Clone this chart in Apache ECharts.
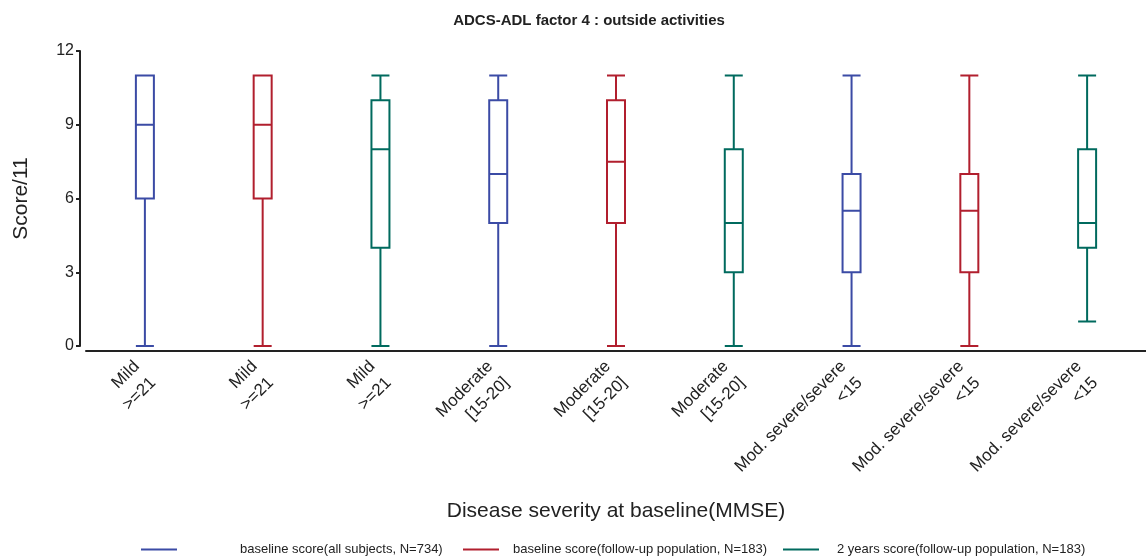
<!DOCTYPE html>
<html>
<head>
<meta charset="utf-8">
<script src="https://cdn.jsdelivr.net/npm/echarts@6/dist/echarts.min.js"></script>
<style>
  html, body { margin: 0; padding: 0; background: #fff; }
  #chart { width: 1146px; height: 559px; }
</style>
</head>
<body>
<div id="chart"></div>
<script>
// categories along the x axis (group label repeated for each population)
const categories = [
  'Mild\n>=21', 'Mild\n>=21', 'Mild\n>=21',
  'Moderate\n[15-20]', 'Moderate\n[15-20]', 'Moderate\n[15-20]',
  'Mod. severe/severe\n<15', 'Mod. severe/severe\n<15', 'Mod. severe/severe\n<15'
]
const seriesNames = [
  'baseline score(all subjects, N=734)',
  'baseline score(follow-up population, N=183)',
  '2 years score(follow-up population, N=183)'
]
const colors = ['#3b4ba5', '#b11f2e', '#006a5e']
// which population each box belongs to
const groupOf = [0, 1, 2, 0, 1, 2, 0, 1, 2]
// [min, Q1, median, Q3, max]
const boxes = [
  [0, 6, 9, 11, 11],
  [0, 6, 9, 11, 11],
  [0, 4, 8, 10, 11],
  [0, 5, 7, 10, 11],
  [0, 5, 7.5, 10, 11],
  [0, 3, 5, 8, 11],
  [0, 3, 5.5, 7, 11],
  [0, 3, 5.5, 7, 11],
  [1, 4, 5, 8, 11]
]
const yTicks = [0, 3, 6, 9, 12]

const chart = echarts.init(document.getElementById('chart'))

const boxData = boxes.map((b, i) => ({
  value: b,
  itemStyle: { borderColor: colors[groupOf[i]], color: 'transparent', borderWidth: 2 }
}))

// legend entries, one legend per entry so they sit like the original
const legendLeft = [136, 458, 778]
const legendPad = [58, 9, 13]
const legends = seriesNames.map((n, i) => ({
  data: [n],
  left: legendLeft[i],
  top: 538,
  icon: 'rect',
  itemWidth: 36,
  itemHeight: 2,
  textStyle: {
    fontSize: 13,
    color: '#222',
    fontFamily: 'Liberation Sans',
    padding: [0, 0, 0, legendPad[i]]
  }
}))

const option = {
  backgroundColor: '#fff',
  animation: false,
  title: {
    text: 'ADCS-ADL factor 4 : outside activities',
    left: 584,
    textAlign: 'center',
    top: 8,
    textStyle: { fontSize: 15, fontWeight: 'bold', color: '#222', fontFamily: 'Liberation Sans' }
  },
  legend: legends,
  grid: { left: 86, right: 0, top: 51, bottom: 213 },
  xAxis: {
    type: 'category',
    data: categories,
    offset: 5,
    name: 'Disease severity at baseline(MMSE)',
    nameLocation: 'middle',
    nameGap: 150,
    nameTextStyle: { fontSize: 21, color: '#222', fontFamily: 'Liberation Sans' },
    axisLine: { onZero: false, lineStyle: { color: '#222', width: 2 } },
    axisTick: { alignWithLabel: true, length: 5, lineStyle: { color: '#222', width: 2 } },
    axisLabel: {
      rotate: 45,
      interval: 0,
      fontSize: 17,
      lineHeight: 23,
      color: '#222',
      margin: 21,
      fontFamily: 'Liberation Sans'
    },
    splitLine: { show: false }
  },
  yAxis: {
    type: 'value',
    min: yTicks[0],
    max: yTicks[yTicks.length - 1],
    interval: 3,
    offset: 6,
    name: 'Score/11',
    nameLocation: 'middle',
    nameGap: 48,
    nameTextStyle: { fontSize: 21, color: '#222', fontFamily: 'Liberation Sans' },
    axisLine: { show: true, lineStyle: { color: '#222', width: 2 } },
    axisTick: { show: true, length: 4, lineStyle: { color: '#222', width: 2 } },
    axisLabel: { fontSize: 16, color: '#222', margin: 6, fontFamily: 'Liberation Sans' },
    splitLine: { show: false }
  },
  series: [
    {
      name: 'boxes',
      type: 'boxplot',
      boxWidth: [18, 18],
      data: boxData
    }
  ].concat(seriesNames.map((n, i) => ({
    name: n,
    type: 'line',
    data: [],
    color: colors[i],
    itemStyle: { color: colors[i] },
    lineStyle: { color: colors[i] }
  })))
}

chart.setOption(option)
</script>
</body>
</html>
